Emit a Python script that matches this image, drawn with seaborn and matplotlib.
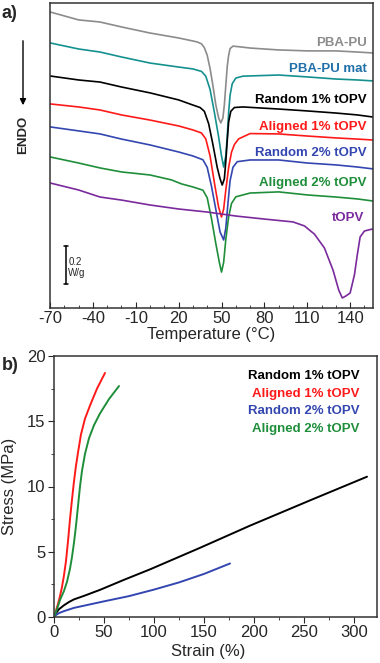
import numpy as np
import pandas as pd
import matplotlib
matplotlib.use("Agg")
import matplotlib.pyplot as plt
from matplotlib.ticker import MultipleLocator, FixedLocator
import seaborn as sns

# ---- DSC traces (temperature in C, heat flow in W/g, curves offset for display) ----
t_pbapu = [-70, -50, -35, -20, 0, 20, 30, 33, 36, 38, 40, 42, 44, 46, 48, 49.5, 51, 52, 53, 54,
           55, 56, 58, 62, 70, 90, 110, 130, 145, 156]
hf_pbapu = [1.558, 1.516, 1.505, 1.479, 1.447, 1.421, 1.405, 1.40, 1.39, 1.37, 1.33, 1.26, 1.17,
            1.07, 1.0, 0.974, 1.0, 1.07, 1.17, 1.27, 1.33, 1.365, 1.378, 1.375, 1.368, 1.358,
            1.353, 1.353, 1.347, 1.342]

t_mat = [-70, -50, -35, -20, 0, 20, 30, 36, 39, 42, 45, 48, 50, 51.5, 53, 54, 55, 56, 57.5, 60,
         65, 90, 110, 130, 145, 156]
hf_mat = [1.395, 1.363, 1.347, 1.321, 1.289, 1.268, 1.258, 1.245, 1.22, 1.15, 1.03, 0.9, 0.8,
          0.742, 0.8, 0.9, 1.03, 1.12, 1.18, 1.21, 1.22, 1.226, 1.216, 1.205, 1.2, 1.195]

t_r1 = [-70, -50, -35, -20, 0, 20, 30, 35, 38, 41, 44, 47, 49, 50.5, 52, 53, 54, 55, 56.5, 59,
        65, 90, 110, 130, 145, 156]
hf_r1 = [1.221, 1.2, 1.189, 1.163, 1.132, 1.095, 1.068, 1.055, 1.035, 0.97, 0.86, 0.74, 0.68,
         0.647, 0.68, 0.77, 0.88, 0.98, 1.035, 1.055, 1.058, 1.047, 1.037, 1.026, 1.016, 1.005]

t_a1 = [-70, -50, -35, -20, 0, 20, 30, 36, 39, 42, 45, 48, 50, 51.5, 53, 55, 57, 59, 62, 70,
        90, 110, 130, 145, 156]
hf_a1 = [1.074, 1.058, 1.042, 1.016, 0.989, 0.958, 0.937, 0.921, 0.89, 0.8, 0.66, 0.53, 0.479,
         0.52, 0.62, 0.74, 0.82, 0.86, 0.89, 0.918, 0.916, 0.905, 0.895, 0.889, 0.884]

t_r2 = [-70, -50, -35, -20, 0, 20, 30, 37, 40, 43, 46, 49, 51.5, 53, 54.5, 56, 58, 61, 70, 90,
        110, 130, 145, 156]
hf_r2 = [0.953, 0.932, 0.916, 0.889, 0.858, 0.821, 0.8, 0.78, 0.74, 0.64, 0.52, 0.4, 0.358,
         0.42, 0.55, 0.67, 0.74, 0.77, 0.779, 0.779, 0.763, 0.753, 0.742, 0.732]

t_a2 = [-70, -50, -35, -20, 0, 15, 22, 30, 37, 40, 43, 46, 48.5, 50, 51.5, 53, 55, 57, 60, 70,
        90, 110, 130, 145, 156]
hf_a2 = [0.795, 0.763, 0.737, 0.716, 0.7, 0.674, 0.653, 0.637, 0.62, 0.58, 0.47, 0.34, 0.24,
         0.189, 0.24, 0.36, 0.48, 0.55, 0.585, 0.605, 0.611, 0.595, 0.584, 0.574, 0.563]

t_topv = [-70, -50, -35, -20, 0, 20, 40, 60, 80, 100, 108, 115, 122, 128, 132, 134.5, 137, 140,
          143, 145, 147, 150, 153, 156]
hf_topv = [0.658, 0.621, 0.584, 0.568, 0.542, 0.521, 0.505, 0.484, 0.468, 0.453, 0.432, 0.389,
           0.316, 0.2, 0.095, 0.053, 0.063, 0.079, 0.174, 0.279, 0.374, 0.405, 0.411, 0.416]

dsc_names = ["PBA-PU", "PBA-PU mat", "Random 1% tOPV", "Aligned 1% tOPV",
             "Random 2% tOPV", "Aligned 2% tOPV", "tOPV"]
dsc_t = [t_pbapu, t_mat, t_r1, t_a1, t_r2, t_a2, t_topv]
dsc_hf = [hf_pbapu, hf_mat, hf_r1, hf_a1, hf_r2, hf_a2, hf_topv]
temp_ticks = [-70, -40, -10, 20, 50, 80, 110, 140]

# ---- Tensile curves (strain %, stress MPa) ----
strain_r1 = [0, 2, 5, 10, 15, 20, 30, 46, 70, 96, 146, 196, 258, 313]
stress_r1 = [0, 0.3, 0.6, 0.9, 1.15, 1.35, 1.62, 2.08, 2.85, 3.65, 5.3, 7.0, 9.0, 10.75]

strain_a1 = [0, 2, 4, 6, 8, 10, 12, 14, 16, 18, 20, 22, 24, 27, 31, 36, 43, 51]
stress_a1 = [0, 0.5, 1.0, 1.6, 2.3, 3.2, 4.3, 5.8, 7.5, 9.0, 10.4, 11.6, 12.6, 14.0, 15.2, 16.2,
             17.5, 18.7]

strain_r2 = [0, 2, 5, 10, 20, 35, 50, 75, 100, 125, 150, 176]
stress_r2 = [0, 0.15, 0.3, 0.45, 0.7, 0.95, 1.2, 1.6, 2.1, 2.65, 3.3, 4.1]

strain_a2 = [0, 3, 6, 10, 13, 16, 18, 20, 22, 24, 26, 28, 31, 35, 40, 46, 55, 65]
stress_a2 = [0, 0.6, 1.3, 2.0, 2.7, 3.7, 4.6, 5.7, 7.0, 8.5, 10.0, 11.2, 12.5, 13.7, 14.7, 15.6,
             16.7, 17.7]

tens_names = ["Random 1% tOPV", "Aligned 1% tOPV", "Random 2% tOPV", "Aligned 2% tOPV"]
tens_strain = [strain_r1, strain_a1, strain_r2, strain_a2]
tens_stress = [stress_r1, stress_a1, stress_r2, stress_a2]

# colours
line_colors = {"PBA-PU": "#8c8c8c", "PBA-PU mat": "#14918f", "Random 1% tOPV": "#000000",
               "Aligned 1% tOPV": "#ff1a1a", "Random 2% tOPV": "#3446b0",
               "Aligned 2% tOPV": "#1f8e3a", "tOPV": "#7a2a9c"}
label_colors = dict(line_colors)
label_colors["PBA-PU mat"] = "#1f6fa8"

sns.set_style("ticks")
plt.rcParams["font.family"] = ["Liberation Sans", "DejaVu Sans"]
plt.rcParams["axes.linewidth"] = 1.1
plt.rcParams["axes.unicode_minus"] = False

fig = plt.figure(figsize=(3.8, 6.63), dpi=100)
ax_a = fig.add_axes([50 / 380, 1 - 308 / 663, 323 / 380, 305 / 663])
ax_b = fig.add_axes([54 / 380, 1 - 617 / 663, 323 / 380, 261 / 663])

# ---------------- panel a: DSC ----------------
dsc_df = pd.concat([pd.DataFrame({"T": t, "HF": hf, "sample": n})
                    for n, t, hf in zip(dsc_names, dsc_t, dsc_hf)])
for n in dsc_names:
    sns.lineplot(data=dsc_df[dsc_df["sample"] == n], x="T", y="HF", color=line_colors[n],
                 lw=1.2, ax=ax_a, sort=False, estimator=None)

ax_a.set_xlim(-70, 156)
ax_a.set_ylim(0, 1.605)
ax_a.set_yticks([])
ax_a.set_ylabel("")
ax_a.xaxis.set_major_locator(FixedLocator(temp_ticks))
ax_a.xaxis.set_minor_locator(FixedLocator(list(range(-70, 156, 10))))
ax_a.tick_params(axis="x", which="major", direction="in", length=4, labelsize=12, pad=2)
ax_a.tick_params(axis="x", which="minor", direction="in", length=2)
ax_a.set_xlabel("Temperature (°C)", fontsize=12)
ax_a.xaxis.set_label_coords(0.5, -0.062)
for sp in ax_a.spines.values():
    sp.set_color("#333333")

label_y = [0.870, 0.783, 0.682, 0.594, 0.509, 0.411, 0.294]
for n, yy in zip(dsc_names, label_y):
    xx = 0.972 if n == "tOPV" else 0.981
    ax_a.text(xx, yy, n, transform=ax_a.transAxes, ha="right", va="center",
              fontsize=9.5, fontweight="bold", color=label_colors[n])

# scale bar 0.2 W/g
ax_a.plot([-59, -59], [0.125, 0.325], color="black", lw=1.1)
ax_a.plot([-60.3, -57.7], [0.125, 0.125], color="black", lw=1.1)
ax_a.plot([-60.3, -57.7], [0.325, 0.325], color="black", lw=1.1)
ax_a.text(-57.3, 0.242, "0.2", fontsize=7, va="center", ha="left")
ax_a.text(-57.3, 0.184, "W/g", fontsize=7, va="center", ha="left")

# ENDO arrow
fig.add_artist(matplotlib.patches.FancyArrowPatch(
    (23 / 380, 1 - 38 / 663), (23 / 380, 1 - 108 / 663), transform=fig.transFigure,
    arrowstyle="-|>", mutation_scale=9, color="black", lw=1.0))
fig.text(23 / 380, 1 - 135 / 663, "ENDO", rotation=90, ha="center", va="center",
         fontsize=9.5, fontweight="bold")
fig.text(2 / 380, 1 - 14 / 663, "a)", fontsize=13, fontweight="bold", va="center", ha="left")

# ---------------- panel b: tensile ----------------
tens_df = pd.concat([pd.DataFrame({"strain": s, "stress": st, "sample": n})
                     for n, s, st in zip(tens_names, tens_strain, tens_stress)])
for n in tens_names:
    sns.lineplot(data=tens_df[tens_df["sample"] == n], x="strain", y="stress",
                 color=line_colors[n], lw=1.4, ax=ax_b, sort=False, estimator=None)

ax_b.set_xlim(0, 323)
ax_b.set_ylim(0, 20)
ax_b.xaxis.set_major_locator(MultipleLocator(50))
ax_b.xaxis.set_minor_locator(MultipleLocator(25))
ax_b.yaxis.set_major_locator(MultipleLocator(5))
ax_b.yaxis.set_minor_locator(MultipleLocator(2.5))
ax_b.tick_params(which="major", direction="out", length=4, labelsize=12, pad=2)
ax_b.tick_params(which="minor", direction="out", length=2.5)
ax_b.set_xlabel("Strain (%)", fontsize=12)
ax_b.set_ylabel("Stress (MPa)", fontsize=12)
ax_b.xaxis.set_label_coords(0.477, -0.105)
ax_b.yaxis.set_label_coords(-0.115, 0.5)
for sp in ax_b.spines.values():
    sp.set_color("#333333")

leg_y = [0.923, 0.854, 0.789, 0.720]
for n, yy in zip(tens_names, leg_y):
    ax_b.text(0.947, yy, n, transform=ax_b.transAxes, ha="right", va="center",
              fontsize=9.5, fontweight="bold", color=label_colors[n])
fig.text(2 / 380, 1 - 366 / 663, "b)", fontsize=13, fontweight="bold", va="center", ha="left")

fig.savefig("out.png", dpi=100)
